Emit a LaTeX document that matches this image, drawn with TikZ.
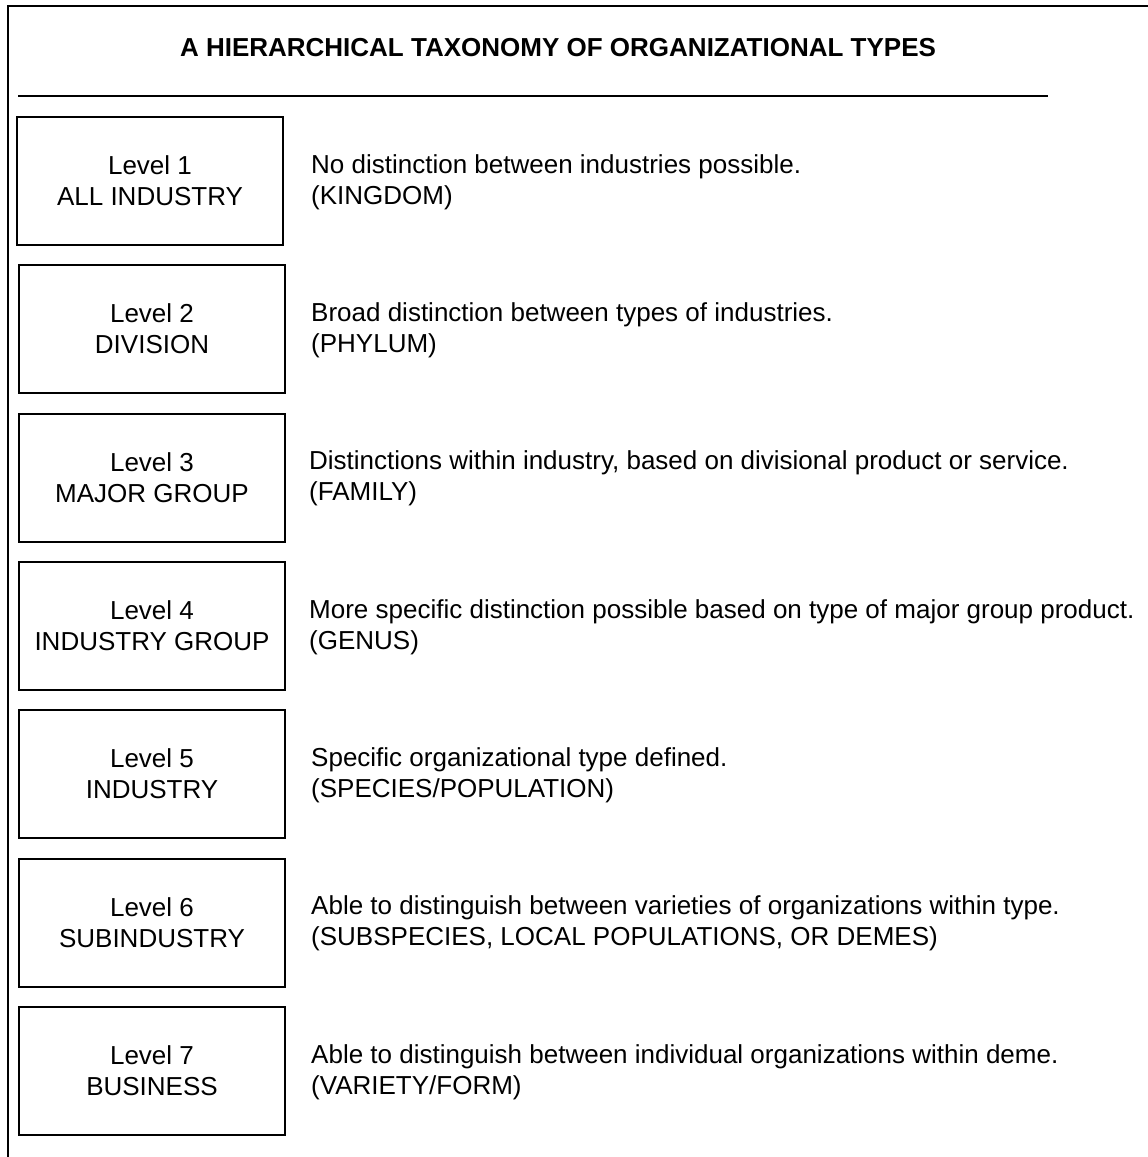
\documentclass[tikz,border=0pt]{standalone}
\usepackage{fontspec}
\setmainfont{Liberation Sans}
\begin{document}
\begin{tikzpicture}[x=1pt,y=-1pt,
  levelbox/.style={draw, line width=1.8pt, minimum width=266pt, minimum height=128pt,
    inner sep=0pt, align=center, font=\fontsize{26}{31}\selectfont},
  desc/.style={anchor=west, inner sep=0pt, align=left, font=\fontsize{26}{31}\selectfont},
  rule/.style={line width=1.8pt}]
\useasboundingbox (0,0) rectangle (1148,1157);
% outer frame: top and left edges
\coordinate (ftl) at (8,6);
\coordinate (ftr) at (1148,6);
\coordinate (fbl) at (8,1157);
\draw[rule] (fbl) -- (ftl) -- (ftr);
% title and rule beneath it
\node[font=\fontsize{26}{30}\selectfont\bfseries, inner sep=0pt] (title) at (558,48)
  {A HIERARCHICAL TAXONOMY OF ORGANIZATIONAL TYPES};
\coordinate (rl) at (18,96);
\coordinate (rr) at (1048,96);
\draw[rule] (rl) -- (rr);
% levels
\node[levelbox] (l1) at (150,181) {Level 1\\ALL INDUSTRY};
\node[desc] (d1) at (311,182) {No distinction between industries possible.\\(KINGDOM)};
\node[levelbox] (l2) at (152,329) {Level 2\\DIVISION};
\node[desc] (d2) at (311,330) {Broad distinction between types of industries.\\(PHYLUM)};
\node[levelbox] (l3) at (152,478) {Level 3\\MAJOR GROUP};
\node[desc] (d3) at (309,478) {Distinctions within industry, based on divisional product or service.\\(FAMILY)};
\node[levelbox] (l4) at (152,626) {Level 4\\INDUSTRY GROUP};
\node[desc] (d4) at (309,627) {More specific distinction possible based on type of major group product.\\(GENUS)};
\node[levelbox] (l5) at (152,774) {Level 5\\INDUSTRY};
\node[desc] (d5) at (311,775) {Specific organizational type defined.\\(SPECIES/POPULATION)};
\node[levelbox] (l6) at (152,923) {Level 6\\SUBINDUSTRY};
\node[desc] (d6) at (311,923) {Able to distinguish between varieties of organizations within type.\\(SUBSPECIES, LOCAL POPULATIONS, OR DEMES)};
\node[levelbox] (l7) at (152,1071) {Level 7\\BUSINESS};
\node[desc] (d7) at (311,1072) {Able to distinguish between individual organizations within deme.\\(VARIETY/FORM)};
\end{tikzpicture}
\end{document}
